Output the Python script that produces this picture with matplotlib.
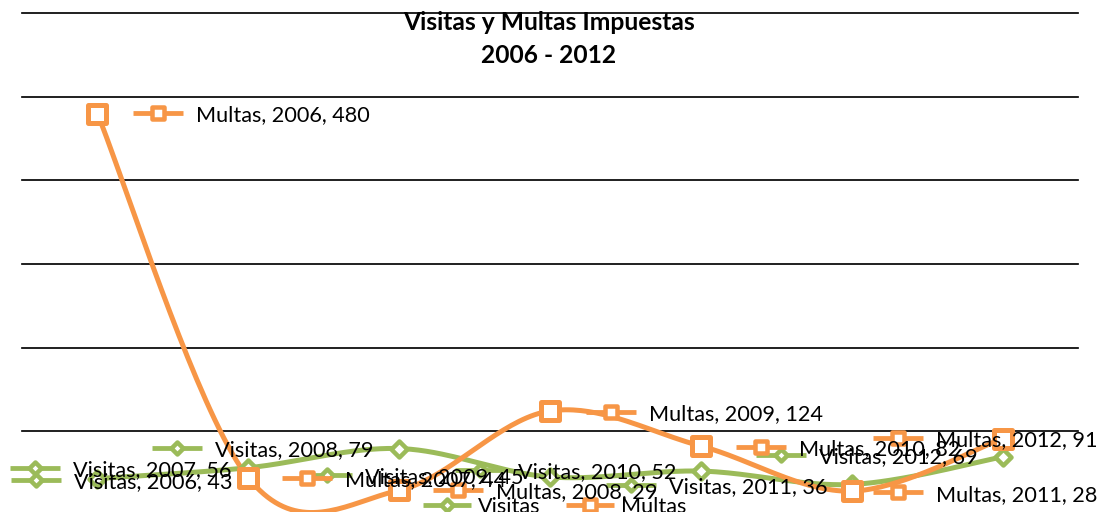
import numpy as np
import matplotlib
matplotlib.use("Agg")
import matplotlib.pyplot as plt
from matplotlib.lines import Line2D
from matplotlib.markers import MarkerStyle
from matplotlib.transforms import IdentityTransform

# ---------------- data ----------------
years = ['2006', '2007', '2008', '2009', '2010', '2011', '2012']
visitas = [43, 56, 79, 45, 52, 36, 69]
multas = [480, 44, 29, 124, 82, 28, 91]
series_names = ['Visitas', 'Multas']
title_lines = ['Visitas y Multas Impuestas', '2006 - 2012']
y_gridlines = [100, 200, 300, 400, 500, 600]

# ---------------- style ----------------
W, H, DPI = 1101, 512, 100
GREEN = '#9BBB59'
ORANGE = '#F79646'
PT = 72.0 / DPI  # points per pixel

# label key-centre offsets (pixels, image-down y) relative to each point
vis_dx = [-61, -213, -222, -223, -221, -221, -222]
vis_dy = [1.4, 0.3, -0.5, -2, -1, 0.5, -2]
mul_dx = [61, 59, 59, 61, 60, 46, -105]
mul_dy = [-0.7, 0.2, -0.3, 1, 1, 1, -0.5]

plt.rcParams['font.family'] = ['Lato', 'DejaVu Sans']

fig = plt.figure(figsize=(W / DPI, H / DPI), dpi=DPI)
fig.patch.set_facecolor('white')
ax = fig.add_axes([22 / W, (H - 514.5) / H, 1056 / W, 501 / H])
ax.set_xlim(-0.5, len(years) - 0.5)
ax.set_ylim(0, 600)
ax.set_xticks([])
ax.set_yticks([])
ax.tick_params(left=False, labelleft=False, bottom=False, labelbottom=False)
for s in ax.spines.values():
    s.set_visible(False)
for g in y_gridlines:
    ax.axhline(g, color='black', lw=1.7 * PT, zorder=1, clip_on=False)


def smooth(xs, ys, n=40):
    pts = np.column_stack([xs, ys]).astype(float)
    ext = np.vstack([pts[0], pts, pts[-1]])
    out = []
    t = np.linspace(0, 1, n)[:, None]
    for i in range(len(pts) - 1):
        p0, p1, p2, p3 = ext[i], ext[i + 1], ext[i + 2], ext[i + 3]
        c1 = p1 + (p2 - p0) / 6.0
        c2 = p2 - (p3 - p1) / 6.0
        seg = (1 - t) ** 3 * p1 + 3 * (1 - t) ** 2 * t * c1 + 3 * (1 - t) * t ** 2 * c2 + t ** 3 * p2
        out.append(seg if i == 0 else seg[1:])
    return np.vstack(out)


x = np.arange(len(years))
sq = MarkerStyle('s', joinstyle='round')
dm = MarkerStyle('D', joinstyle='round')
series = [
    (visitas, GREEN, dm, 12.0, 4.5),
    (multas, ORANGE, sq, 18.0, 5.0),
]
for vals, col, mk, ms, mew in series:
    c = smooth(x, vals)
    ax.plot(c[:, 0], c[:, 1], color=col, lw=5.0 * PT, solid_joinstyle='round',
            solid_capstyle='round', zorder=3)
    ax.plot(x, vals, ls='none', marker=mk, ms=ms * PT, mfc='white', mec=col,
            mew=mew * PT, zorder=4)

renderer = fig.canvas.get_renderer()


def fit_size(text, target, weight='normal', base=17):
    t = fig.text(0, 0, text, fontsize=base, weight=weight, transform=IdentityTransform())
    w = t.get_window_extent(renderer).width
    t.remove()
    return base * target / w


label_fs = fit_size('Multas, 2009, 124', 174)
title_fs = fit_size(title_lines[0], 292, weight='bold')


def key(cx, cy, col, mk, ms, mew, half=25):
    y = H - cy
    fig.add_artist(Line2D([cx - half, cx + half], [y, y], transform=IdentityTransform(),
                          color=col, lw=4.8 * PT, solid_capstyle='butt', zorder=5))
    fig.add_artist(Line2D([cx], [y], transform=IdentityTransform(), ls='none', marker=mk,
                          ms=ms * PT, mfc='white', mec=col, mew=mew * PT, zorder=5))


def label(cx, cy, s, col, mk, ms, mew, gap=38):
    key(cx, cy, col, mk, ms, mew)
    fig.text(cx + gap, H - (cy + 8.5), s, transform=IdentityTransform(), fontsize=label_fs,
             ha='left', va='baseline', color='black', zorder=6)


def px(i, v):
    dx, dy = ax.transData.transform((i, v))
    return dx, H - dy


key_specs = {
    'Visitas': (GREEN, dm, 8.0, 4.5),
    'Multas': (ORANGE, sq, 12.0, 4.5),
}

for i, yr in enumerate(years):
    pxx, pyy = px(i, visitas[i])
    col, mk, ms, mew = key_specs['Visitas']
    label(pxx + vis_dx[i], pyy + vis_dy[i], f'{series_names[0]}, {yr}, {visitas[i]}', col, mk, ms, mew)
for i, yr in enumerate(years):
    pxx, pyy = px(i, multas[i])
    col, mk, ms, mew = key_specs['Multas']
    label(pxx + mul_dx[i], pyy + mul_dy[i], f'{series_names[1]}, {yr}, {multas[i]}', col, mk, ms, mew)

# legend at the bottom (partially cut off)
for name, cx in zip(series_names, [447, 590]):
    col, mk, ms, mew = key_specs[name]
    key(cx, 505, col, mk, ms, mew, half=24)
    fig.text(cx + 31, H - 513, name, transform=IdentityTransform(), fontsize=label_fs,
             ha='left', va='baseline', zorder=6)

# title
fig.text(549, H - 29.5, title_lines[0], transform=IdentityTransform(), fontsize=title_fs,
         weight='bold', ha='center', va='baseline', zorder=7)
fig.text(549, H - 63.3, title_lines[1], transform=IdentityTransform(), fontsize=title_fs,
         weight='bold', ha='center', va='baseline', zorder=7)

fig.savefig('out.png', dpi=DPI, facecolor='white')
